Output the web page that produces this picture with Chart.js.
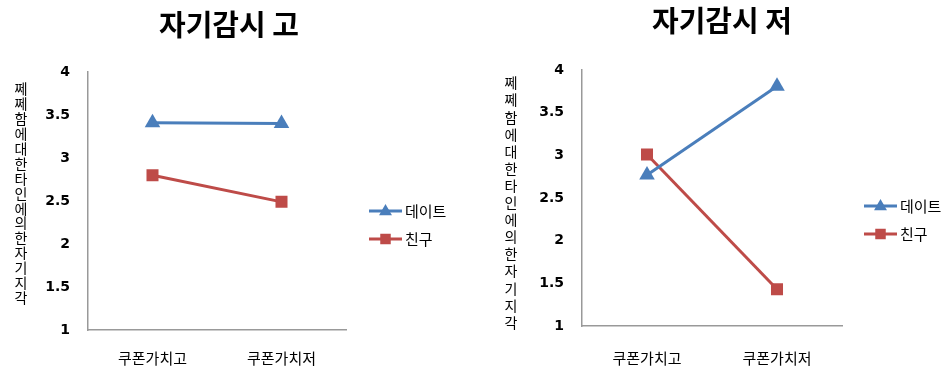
<!DOCTYPE html>
<html>
<head>
<meta charset="utf-8">
<script src="https://cdn.jsdelivr.net/npm/chart.js@4.4.1/dist/chart.umd.min.js"></script>
<style>
  html, body { margin: 0; padding: 0; background: #fff; }
  #wrap { position: relative; width: 948px; height: 374px; overflow: hidden; }
  .panel { position: absolute; top: 0; width: 474px; height: 374px; }
</style>
</head>
<body>
<div id="wrap">
  <div class="panel" style="left:0"><canvas id="chartHigh" width="474" height="374"></canvas></div>
  <div class="panel" style="left:474px"><canvas id="chartLow" width="474" height="374"></canvas></div>
</div>
<script>
// 데이터
const categories = ['쿠폰가치고', '쿠폰가치저'];
const seriesNames = ['데이트', '친구'];
const highDate = [3.41, 3.40];
const highFriend = [2.80, 2.49];
const lowDate = [2.77, 3.81];
const lowFriend = [3.01, 1.43];
const yTicks = [1, 1.5, 2, 2.5, 3, 3.5, 4];
const titles = ['자기감시 고', '자기감시 저'];
const yTitle = '쩨쩨함에대한타인에의한자기지각';

const KR = '"Noto Sans CJK KR", "Noto Sans", sans-serif';
const blue = '#4a7ebb';
const red = '#be4b48';

function drawMarker(ctx, style, x, y, r, color) {
    ctx.fillStyle = color;
    ctx.beginPath();
    if (style === 'triangle') {
        ctx.moveTo(x, y - r);
        ctx.lineTo(x + r * 0.92, y + r * 0.6);
        ctx.lineTo(x - r * 0.92, y + r * 0.6);
        ctx.closePath();
    } else {
        ctx.rect(x - r * 0.75, y - r * 0.75, r * 1.5, r * 1.5);
    }
    ctx.fill();
}

// 제목, 세로 축 제목, 범례를 직접 그리는 플러그인
const panelText = {
    id: 'panelText',
    afterDraw(chart, args, opts) {
        const ctx = chart.ctx;
        ctx.save();
        // 제목
        ctx.fillStyle = '#000';
        ctx.font = 'bold 29px ' + KR;
        ctx.textAlign = 'center';
        ctx.textBaseline = 'middle';
        ctx.fillText(opts.title, opts.titleX, opts.titleY);

        // 세로 축 제목 (한 글자씩 아래로)
        ctx.font = '14px ' + KR;
        const chars = Array.from(yTitle);
        chars.forEach((ch, i) => {
            ctx.fillText(ch, opts.yTitleX, opts.yTitleY + i * opts.yTitleStep);
        });

        // 범례
        ctx.textAlign = 'left';
        ctx.font = '15px ' + KR;
        chart.data.datasets.forEach((ds, i) => {
            const y = opts.legendY[i];
            const x = opts.legendX;
            ctx.strokeStyle = ds.borderColor;
            ctx.lineWidth = 3;
            ctx.beginPath();
            ctx.moveTo(x, y);
            ctx.lineTo(x + 33, y);
            ctx.stroke();
            drawMarker(ctx, ds.pointStyle, x + 16.5, y, 7, ds.borderColor);
            ctx.fillStyle = '#000';
            ctx.fillText(ds.label, x + 36, y);
        });
        ctx.restore();
    }
};

function makeChart(id, dateVals, friendVals, cfg) {
    const ctx = document.getElementById(id).getContext('2d');
    return new Chart(ctx, {
        type: 'line',
        data: {
            labels: categories,
            datasets: [{
                label: seriesNames[0],
                data: dateVals,
                borderColor: blue,
                backgroundColor: blue,
                borderWidth: 3,
                pointStyle: 'triangle',
                pointRadius: 9,
                pointBorderWidth: 0
            }, {
                label: seriesNames[1],
                data: friendVals,
                borderColor: red,
                backgroundColor: red,
                borderWidth: 3,
                pointStyle: 'rect',
                pointRadius: 8.5,
                pointBorderWidth: 0
            }]
        },
        options: {
            responsive: false,
            animation: false,
            layout: { padding: { top: cfg.top, right: cfg.right, left: 0, bottom: 0 } },
            plugins: {
                legend: { display: false },
                title: { display: false },
                tooltip: { enabled: false },
                panelText: cfg.text
            },
            scales: {
                x: {
                    offset: true,
                    grid: { display: false, drawTicks: false },
                    border: { display: true, color: '#999', width: 1.5 },
                    ticks: { color: '#000', padding: cfg.xPad, font: { family: KR, size: 15 } },
                    afterFit: s => { s.height = cfg.xHeight; }
                },
                y: {
                    min: 1,
                    max: 4,
                    afterBuildTicks: s => { s.ticks = yTicks.map(v => ({ value: v })); },
                    grid: { display: false, drawTicks: false },
                    border: { display: true, color: '#999', width: 1.5 },
                    ticks: {
                        color: '#000',
                        padding: 18,
                        font: { family: '"DejaVu Sans", sans-serif', size: 14, weight: 'bold' },
                        callback: v => String(v)
                    },
                    afterFit: s => { s.width = cfg.yWidth; }
                }
            }
        },
        plugins: [panelText]
    });
}

makeChart('chartHigh', highDate, highFriend, {
    top: 72, right: 128, yWidth: 88, xHeight: 44, xPad: 19,
    text: {
        title: titles[0], titleX: 229, titleY: 25,
        yTitleX: 21, yTitleY: 89, yTitleStep: 14.9,
        legendX: 369, legendY: [211, 239]
    }
});

makeChart('chartLow', lowDate, lowFriend, {
    top: 70, right: 106, yWidth: 108, xHeight: 48, xPad: 23,
    text: {
        title: titles[1], titleX: 722 - 474, titleY: 21,
        yTitleX: 37, yTitleY: 83, yTitleStep: 17.1,
        legendX: 390, legendY: [206, 234]
    }
});
</script>
</body>
</html>
